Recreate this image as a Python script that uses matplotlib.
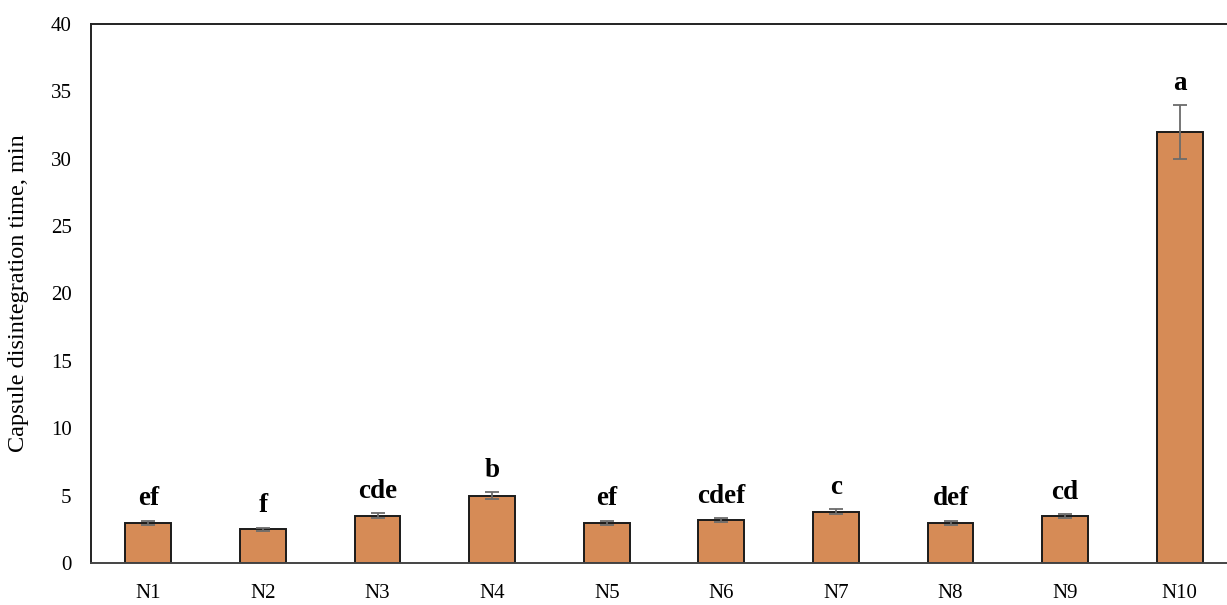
import matplotlib
matplotlib.use("Agg")
import matplotlib.pyplot as plt

# capsule disintegration times (min)
samples = ['N1', 'N2', 'N3', 'N4', 'N5', 'N6', 'N7', 'N8', 'N9', 'N10']
times = [3.0, 2.5, 3.5, 5.0, 3.0, 3.2, 3.8, 3.0, 3.5, 32.0]
errors = [0.15, 0.12, 0.18, 0.25, 0.15, 0.12, 0.18, 0.15, 0.15, 2.0]
letters = ['ef', 'f', 'cde', 'b', 'ef', 'cdef', 'c', 'def', 'cd', 'a']

plt.rcParams['font.family'] = ['Liberation Serif', 'DejaVu Serif']

fig = plt.figure(figsize=(12.27, 6.05), dpi=100)
# plot area runs a little past the right edge, like the cropped original
ax = fig.add_axes([0.0742, 0.0694, 0.934, 0.891])

x = list(range(len(samples)))
ax.bar(x, times, width=0.4, color='#D68B56', edgecolor='#1a1a1a', linewidth=1.4,
       zorder=2)
ax.errorbar(x, times, yerr=errors, fmt='none', ecolor='#6b6b6b', elinewidth=1.3,
            capsize=5, capthick=1.3, zorder=3)

for xi, t, e, lab in zip(x, times, errors, letters):
    ax.annotate(lab, (xi, t + e), xytext=(0, 11), textcoords='offset points',
                ha='center', va='baseline', fontsize=19.5, fontweight='bold')

ax.set_xlim(-0.5, 9.5)
ax.set_ylim(0, 40)
ax.set_yticks(range(0, 41, 5))
ax.set_xticks(x)
ax.set_xticklabels(samples)
ax.tick_params(axis='both', length=0, labelsize=15)
ax.tick_params(axis='x', pad=15)
ax.tick_params(axis='y', pad=14)
ax.set_ylabel('Capsule disintegration time, min', fontsize=17.5)
ax.yaxis.set_label_coords(-0.054, 0.5)

for side in ['left', 'top', 'right']:
    ax.spines[side].set_color('#222222')
    ax.spines[side].set_linewidth(1.4)
ax.spines['bottom'].set_color('#444444')
ax.spines['bottom'].set_linewidth(1.4)

fig.savefig('out.png', dpi=100)
